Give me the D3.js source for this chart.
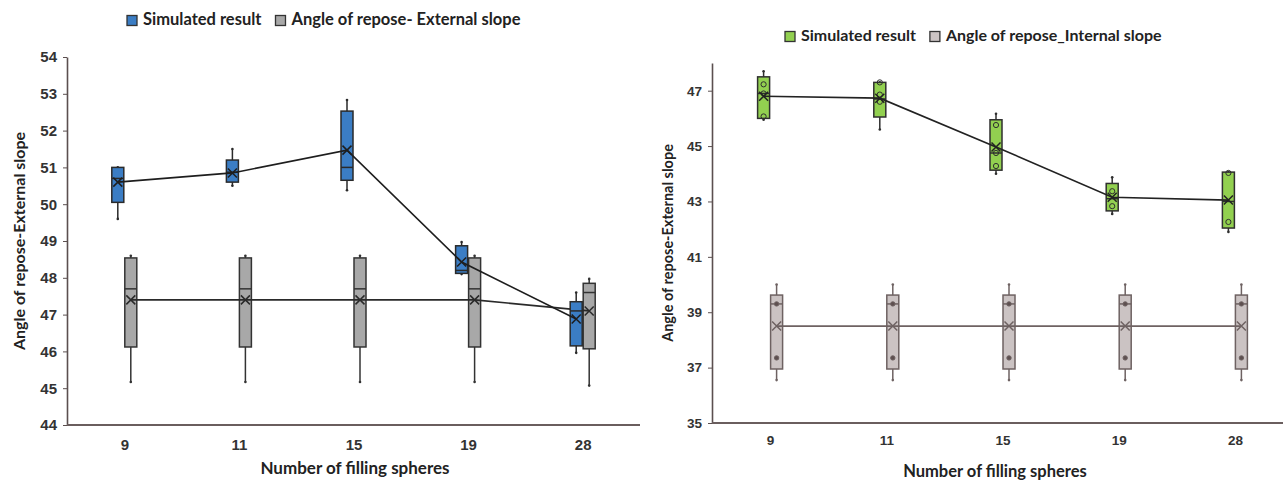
<!DOCTYPE html>
<html>
<head>
<meta charset="utf-8">
<script src="https://cdn.jsdelivr.net/npm/d3@7"></script>
<style>
  body { margin: 0; background: #fff; }
  svg { display: block; font-family: Lato, "Open Sans", sans-serif; }
</style>
</head>
<body>
<script>
// categories on the x axis
const categories = ['9', '11', '15', '19', '28'];

// box stats per category: [whisker low, q1, median, q3, whisker high]
const extSimBox = [[49.6, 50.05, 50.7, 51.0, 51.0], [50.5, 50.6, 50.87, 51.2, 51.5], [50.38, 50.65, 51.0, 52.53, 52.83], [48.1, 48.12, 48.2, 48.87, 48.97], [45.96, 46.15, 47.1, 47.35, 47.6]];
const extSimMean = [50.6, 50.85, 51.47, 48.43, 46.88];
const extExpBox = [[45.17, 46.12, 47.7, 48.54, 48.6], [45.17, 46.12, 47.7, 48.54, 48.6], [45.17, 46.12, 47.7, 48.54, 48.6], [45.17, 46.12, 47.7, 48.54, 48.6], [45.07, 46.07, 47.6, 47.85, 47.97]];
const extExpMean = [47.4, 47.4, 47.4, 47.4, 47.1];

const intSimBox = [[45.95, 46.0, 46.9, 47.5, 47.7], [45.6, 46.05, 46.7, 47.3, 47.3], [44.0, 44.13, 44.75, 45.95, 46.17], [42.55, 42.66, 43.1, 43.65, 43.87], [41.9, 42.04, 43.0, 44.06, 44.06]];
const intSimMean = [46.8, 46.73, 44.97, 43.15, 43.05];
const intSimPoints = [[47.23, 46.9, 46.07], [47.3, 46.86, 46.6], [45.76, 44.75, 44.28], [43.37, 42.83], [44.03, 42.26]];
const intExpBox = [[36.55, 36.95, 39.3, 39.62, 40.0], [36.55, 36.95, 39.3, 39.62, 40.0], [36.55, 36.95, 39.3, 39.62, 40.0], [36.55, 36.95, 39.3, 39.62, 40.0], [36.55, 36.95, 39.3, 39.62, 40.0]];
const intExpMean = [38.5, 38.5, 38.5, 38.5, 38.5];
const intExpPoints = [[39.3, 37.35], [39.3, 37.35], [39.3, 37.35], [39.3, 37.35], [39.3, 37.35]];

const extTicks = d3.range(44, 55, 1);
const intTicks = d3.range(35, 48, 2);

const svg = d3.select('body').append('svg')
    .attr('width', 1283)
    .attr('height', 482);

function drawPanel(p) {
    const g = svg.append('g');
    const x = d3.scalePoint().domain(categories).range(p.xRange).padding(0.5);
    const sub = d3.scaleBand().domain(['sim', 'exp']).range([-13, 13]);
    const y = d3.scaleLinear().domain(p.yDomain).range(p.yRange);

    // y axis
    const ya = g.append('g')
        .attr('transform', `translate(${p.xRange[0]},0)`)
        .call(d3.axisLeft(y).tickValues(p.ticks).tickSize(4).tickSizeOuter(0).tickPadding(6).tickFormat(d3.format('d')));
    ya.select('.domain').attr('stroke', '#5b4f4f').attr('stroke-width', 1.6);
    ya.selectAll('.tick line').attr('stroke', '#5b4f4f');
    ya.selectAll('text').attr('font-size', p.tickFont).attr('font-weight', 700).attr('fill', '#333');

    // x axis
    const xa = g.append('g')
        .attr('transform', `translate(0,${p.yRange[0]})`)
        .call(d3.axisBottom(x).tickSize(0).tickPadding(p.xTickPad));
    xa.select('.domain').remove();
    xa.selectAll('text').attr('font-size', p.tickFont).attr('font-weight', 700).attr('fill', '#333');
    g.append('line')
        .attr('x1', p.xRange[0]).attr('x2', p.xEnd)
        .attr('y1', y(p.yDomain[0])).attr('y2', y(p.yDomain[0]))
        .attr('stroke', '#6a5e5e').attr('stroke-width', 1.8);

    // axis titles
    g.append('text')
        .attr('transform', `translate(${p.yTitleX},${(p.yRange[0] + p.yRange[1]) / 2}) rotate(-90)`)
        .attr('text-anchor', 'middle')
        .attr('dominant-baseline', 'middle')
        .attr('font-size', p.yTitleFont).attr('font-weight', 700).attr('fill', '#222')
        .text('Angle of repose-External slope');
    g.append('text')
        .attr('x', p.xTitle[0]).attr('y', p.xTitle[1])
        .attr('text-anchor', 'middle')
        .attr('dominant-baseline', 'middle')
        .attr('font-size', p.xTitleFont).attr('font-weight', 700).attr('fill', '#222')
        .text('Number of filling spheres');

    // series: experimental first, simulated on top
    p.series.forEach(s => {
        const cx = (c) => x(c) + sub(s.key) + sub.bandwidth() / 2;
        const bw = sub.bandwidth() - 1;
        const sg = g.append('g');
        categories.forEach((c, i) => {
            const [lo, q1, med, q3, hi] = s.box[i];
            const xc = cx(c);
            sg.append('line')
                .attr('x1', xc).attr('x2', xc).attr('y1', y(hi)).attr('y2', y(lo))
                .attr('stroke', s.stroke).attr('stroke-width', 1.5);
            [lo, hi].forEach(v => sg.append('circle')
                .attr('cx', xc).attr('cy', y(v)).attr('r', 1.3).attr('fill', s.stroke));
            sg.append('rect')
                .attr('x', xc - bw / 2).attr('width', bw)
                .attr('y', y(q3)).attr('height', y(q1) - y(q3))
                .attr('fill', s.fill).attr('stroke', s.stroke).attr('stroke-width', 1.5);
            sg.append('line')
                .attr('x1', xc - bw / 2).attr('x2', xc + bw / 2).attr('y1', y(med)).attr('y2', y(med))
                .attr('stroke', s.stroke).attr('stroke-width', 1.5);
            if (s.points) {
                s.points[i].forEach(v => sg.append('circle')
                    .attr('cx', xc).attr('cy', y(v)).attr('r', s.pointR)
                    .attr('fill', s.pointFill).attr('stroke', s.stroke).attr('stroke-width', 1));
            }
        });
        // mean line
        sg.append('path')
            .datum(s.mean)
            .attr('fill', 'none')
            .attr('stroke', s.lineColor)
            .attr('stroke-width', 1.6)
            .attr('d', d3.line().x((d, i) => cx(categories[i])).y(d => y(d)));
        // mean markers
        s.mean.forEach((m, i) => {
            const xc = cx(categories[i]), yc = y(m), k = 4.5;
            sg.append('path')
                .attr('d', `M${xc - k},${yc - k}L${xc + k},${yc + k}M${xc - k},${yc + k}L${xc + k},${yc - k}`)
                .attr('stroke', s.lineColor).attr('stroke-width', 1.5);
        });
    });

    // legend
    const lg = g.append('g').attr('transform', `translate(${p.legend[0]},${p.legend[1]})`);
    let lx = 0;
    p.legendItems.forEach(item => {
        lg.append('rect')
            .attr('x', lx).attr('y', -5.5).attr('width', 10).attr('height', 10)
            .attr('fill', item.fill).attr('stroke', '#333').attr('stroke-width', 1.3);
        const t = lg.append('text')
            .attr('x', lx + 16).attr('y', 0)
            .attr('dominant-baseline', 'middle')
            .attr('font-size', p.legendFont).attr('font-weight', 700).attr('fill', '#222')
            .text(item.label);
        lx += 16 + t.node().getComputedTextLength() + item.gap;
    });
}

drawPanel({
    xRange: [67, 640], xEnd: 640,
    yDomain: [44, 54], yRange: [425, 57], ticks: extTicks,
    tickFont: 15, yTitleFont: 16, xTitleFont: 17, legendFont: 16.5, xTickPad: 14,
    yTitleX: 21, xTitle: [355, 470],
    legend: [127, 21],
    legendItems: [
        { fill: '#3b7dc4', label: 'Simulated result', gap: 14 },
        { fill: '#a8a8a8', label: 'Angle of repose- External slope', gap: 0 }
    ],
    series: [
        { key: 'exp', box: extExpBox, mean: extExpMean, fill: '#a8a8a8', stroke: '#333', lineColor: '#2a2a2a' },
        { key: 'sim', box: extSimBox, mean: extSimMean, fill: '#3b7dc4', stroke: '#2a2a2a', lineColor: '#1e1e1e' }
    ]
});

drawPanel({
    xRange: [712, 1293], xEnd: 1283,
    yDomain: [35, 48], yRange: [423, 63], ticks: intTicks,
    tickFont: 13.5, yTitleFont: 14.5, xTitleFont: 16.5, legendFont: 16, xTickPad: 12,
    yTitleX: 669, xTitle: [995, 473],
    legend: [785, 37],
    legendItems: [
        { fill: '#92d050', label: 'Simulated result', gap: 14 },
        { fill: '#cbc3c3', label: 'Angle of repose_Internal slope', gap: 0 }
    ],
    series: [
        { key: 'exp', box: intExpBox, mean: intExpMean, points: intExpPoints, pointR: 2.2, pointFill: '#5e5050',
          fill: '#cbc3c3', stroke: '#6e6262', lineColor: '#6e6262' },
        { key: 'sim', box: intSimBox, mean: intSimMean, points: intSimPoints, pointR: 2.6, pointFill: 'none',
          fill: '#92d050', stroke: '#2f2f2f', lineColor: '#222' }
    ]
});
</script>
</body>
</html>
